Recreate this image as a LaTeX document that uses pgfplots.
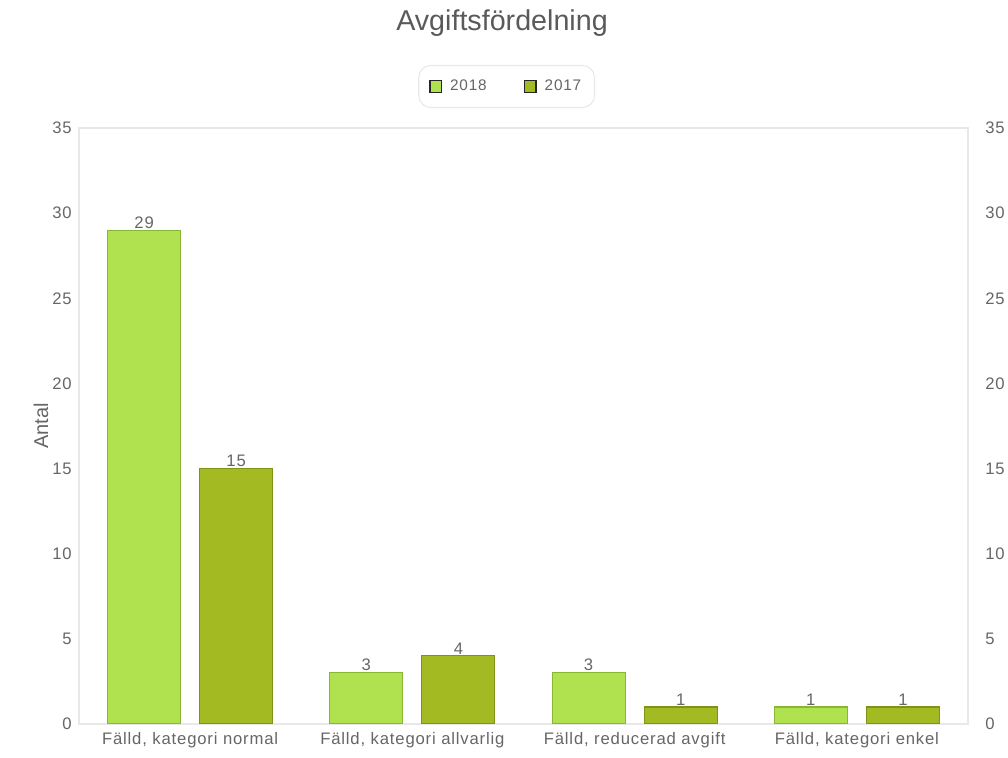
\documentclass[border=0pt]{standalone}
\usepackage{pgfplots}
\usepackage{fontspec}
\pgfplotsset{compat=1.18}
\usetikzlibrary{calc}
\setmainfont[LetterSpace=5]{Liberation Sans}
\newfontfamily\plainsans{Liberation Sans}

\definecolor{txt}{HTML}{666666}
\definecolor{ttl}{HTML}{5A5A5A}
\definecolor{light}{HTML}{B0E24F}
\definecolor{lightedge}{HTML}{8AB635}
\definecolor{dark}{HTML}{A3BA22}
\definecolor{darkedge}{HTML}{7E9417}
\definecolor{frame}{HTML}{E8E8E8}

\begin{document}
\begin{tikzpicture}
\begin{axis}[
  name=ax,
  scale only axis,
  width=666.75pt, height=447pt,
  ybar=14.25pt, bar width=0.3285,
  xmin=-0.5, xmax=3.5, ymin=0, ymax=35,
  xtick={0,1,2,3},
  xticklabels={{Fälld, kategori normal},{Fälld, kategori allvarlig},{Fälld, reducerad avgift},{Fälld, kategori enkel}},
  ytick={0,5,...,35},
  major tick length=0pt,
  axis line style={frame, line width=0.8pt},
  tick label style={font=\fontsize{12.5pt}{14pt}\selectfont, text=txt},
  /pgf/number format/assume math mode=true,
  xticklabel style={yshift=-3pt},
  yticklabel style={xshift=-2pt},
  ylabel={Antal},
  ylabel style={font=\plainsans\fontsize{15pt}{17pt}\selectfont, text=txt, yshift=-4pt},
  nodes near coords,
  nodes near coords style={font=\fontsize{12.5pt}{14pt}\selectfont, text=txt, inner sep=1pt},
  legend columns=2,
  legend style={at={(0.481,1.0696)}, anchor=center, draw=frame, line width=0.8pt,
    rounded corners=9pt, font=\fontsize{11.5pt}{13pt}\selectfont, text=txt,
    inner xsep=8pt, inner ysep=9pt,
    /tikz/every odd column/.append style={column sep=4pt},
    /tikz/every even column/.append style={column sep=26pt}},
]
\addplot[fill=light, draw=lightedge, line width=0.8pt,
  legend image code/.code={\draw[sharp corners, fill=light, draw=black!85, line width=1pt] (0pt,-4.3pt) rectangle (8.6pt,4.3pt);}]
  coordinates {(0,29) (1,3) (2,3) (3,1)};
\addlegendentry{2018}
\addplot[fill=dark, draw=darkedge, line width=0.8pt,
  legend image code/.code={\draw[sharp corners, fill=dark, draw=black!85, line width=1pt] (0pt,-4.3pt) rectangle (8.6pt,4.3pt);}]
  coordinates {(0,15) (1,4) (2,1) (3,1)};
\addlegendentry{2017}
\end{axis}
\begin{axis}[
  at={(ax.south west)}, anchor=south west,
  scale only axis,
  width=666.75pt, height=447pt,
  xmin=-0.5, xmax=3.5, ymin=0, ymax=35,
  axis x line=none,
  axis y line*=right,
  axis line style={draw=none},
  ytick={0,5,...,35},
  major tick length=0pt,
  tick label style={font=\fontsize{12.5pt}{14pt}\selectfont, text=txt},
  /pgf/number format/assume math mode=true,
  yticklabel style={xshift=9.5pt},
]
\addplot[draw=none] coordinates {(0,0)};
\end{axis}
\node[font=\plainsans\fontsize{21.5pt}{25pt}\selectfont, text=ttl] at ($(ax.north west)+(317.25pt,79pt)$) {Avgiftsfördelning};
\pgfresetboundingbox
\path[use as bounding box] ($(ax.south west)+(-59.25pt,-25.5pt)$) rectangle ($(ax.north east)+(30pt,96pt)$);
\end{tikzpicture}
\end{document}
